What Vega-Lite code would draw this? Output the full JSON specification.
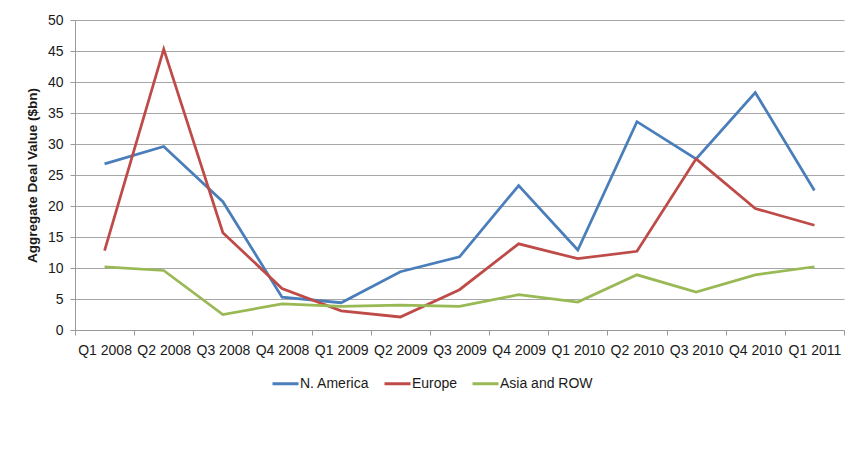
{
  "$schema": "https://vega.github.io/schema/vega-lite/v6.json",
  "width": 769,
  "height": 310,
  "autosize": {"type": "none"},
  "padding": {"left": 75, "top": 20, "right": 4, "bottom": 124},
  "background": "white",
  "config": {
    "view": {"stroke": null},
    "font": "Liberation Sans",
    "axis": {"labelFont": "Liberation Sans", "titleFont": "Liberation Sans", "labelColor": "#1a1a1a", "titleColor": "#1a1a1a"}
  },
  "data": {
    "values": [
      {"q": "Q1 2008", "s": "N. America", "v": 26.8}, {"q": "Q2 2008", "s": "N. America", "v": 29.6}, {"q": "Q3 2008", "s": "N. America", "v": 20.7}, {"q": "Q4 2008", "s": "N. America", "v": 5.3}, {"q": "Q1 2009", "s": "N. America", "v": 4.4}, {"q": "Q2 2009", "s": "N. America", "v": 9.4}, {"q": "Q3 2009", "s": "N. America", "v": 11.8}, {"q": "Q4 2009", "s": "N. America", "v": 23.3}, {"q": "Q1 2010", "s": "N. America", "v": 12.9}, {"q": "Q2 2010", "s": "N. America", "v": 33.6}, {"q": "Q3 2010", "s": "N. America", "v": 27.6}, {"q": "Q4 2010", "s": "N. America", "v": 38.3}, {"q": "Q1 2011", "s": "N. America", "v": 22.5},
      {"q": "Q1 2008", "s": "Europe", "v": 12.8}, {"q": "Q2 2008", "s": "Europe", "v": 45.3}, {"q": "Q3 2008", "s": "Europe", "v": 15.7}, {"q": "Q4 2008", "s": "Europe", "v": 6.7}, {"q": "Q1 2009", "s": "Europe", "v": 3.1}, {"q": "Q2 2009", "s": "Europe", "v": 2.1}, {"q": "Q3 2009", "s": "Europe", "v": 6.5}, {"q": "Q4 2009", "s": "Europe", "v": 13.9}, {"q": "Q1 2010", "s": "Europe", "v": 11.5}, {"q": "Q2 2010", "s": "Europe", "v": 12.7}, {"q": "Q3 2010", "s": "Europe", "v": 27.6}, {"q": "Q4 2010", "s": "Europe", "v": 19.6}, {"q": "Q1 2011", "s": "Europe", "v": 16.9},
      {"q": "Q1 2008", "s": "Asia and ROW", "v": 10.2}, {"q": "Q2 2008", "s": "Asia and ROW", "v": 9.6}, {"q": "Q3 2008", "s": "Asia and ROW", "v": 2.5}, {"q": "Q4 2008", "s": "Asia and ROW", "v": 4.2}, {"q": "Q1 2009", "s": "Asia and ROW", "v": 3.8}, {"q": "Q2 2009", "s": "Asia and ROW", "v": 4.0}, {"q": "Q3 2009", "s": "Asia and ROW", "v": 3.8}, {"q": "Q4 2009", "s": "Asia and ROW", "v": 5.7}, {"q": "Q1 2010", "s": "Asia and ROW", "v": 4.5}, {"q": "Q2 2010", "s": "Asia and ROW", "v": 8.9}, {"q": "Q3 2010", "s": "Asia and ROW", "v": 6.1}, {"q": "Q4 2010", "s": "Asia and ROW", "v": 8.9}, {"q": "Q1 2011", "s": "Asia and ROW", "v": 10.2}
    ]
  },
  "mark": {"type": "line", "strokeWidth": 2.75, "strokeJoin": "miter"},
  "encoding": {
    "x": {
      "field": "q", "type": "ordinal", "sort": null, "title": null,
      "scale": {"type": "band", "paddingInner": 0, "paddingOuter": 0},
      "axis": {"labelAngle": 0, "labelFontSize": 14, "labelPadding": 8, "tickBand": "extent", "tickSize": 5, "tickColor": "#999", "domainColor": "#999", "grid": false, "labelBound": false, "labelOverlap": false}
    },
    "y": {
      "field": "v", "type": "quantitative", "title": "Aggregate Deal Value ($bn)",
      "scale": {"domain": [0, 50], "nice": false},
      "axis": {"values": [0, 5, 10, 15, 20, 25, 30, 35, 40, 45, 50], "labelFontSize": 14, "labelPadding": 7, "tickSize": 5, "tickColor": "#999", "domainColor": "#999", "gridColor": "#a6a6a6", "gridWidth": 1.2, "titleFontSize": 13.5, "titleFontWeight": "bold", "titlePadding": 8}
    },
    "color": {
      "field": "s", "type": "nominal", "title": null,
      "scale": {"domain": ["N. America", "Europe", "Asia and ROW"], "range": ["#4a7ebb", "#be4b48", "#98b954"]},
      "legend": {"orient": "none", "direction": "horizontal", "legendX": 196, "legendY": 349, "symbolType": "stroke", "symbolSize": 676, "symbolStrokeWidth": 3, "labelFontSize": 14, "labelFont": "Liberation Sans", "labelColor": "#1a1a1a", "labelOffset": 0, "columnPadding": 8}
    }
  }
}
